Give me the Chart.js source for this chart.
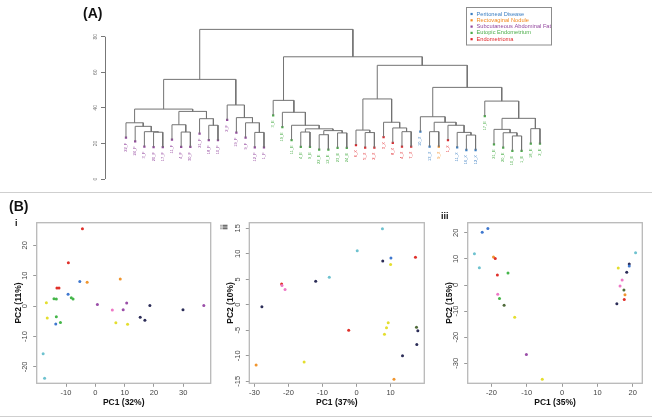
<!DOCTYPE html>
<html>
<head>
<meta charset="utf-8">
<script src="https://cdn.jsdelivr.net/npm/chart.js@4.4.1/dist/chart.umd.min.js"></script>
<style>
  body { margin: 0; background: #fff; width: 652px; height: 419px; overflow: hidden; position: relative; font-family: "Liberation Sans", Arial, sans-serif; }
  canvas { position: absolute; }
  .tag { position: absolute; font-weight: bold; color: #111; white-space: nowrap; will-change: transform; }
  .rule { position: absolute; left: 0; width: 652px; height: 1px; background: #cfcfcf; }
</style>
</head>
<body>
<div class="tag" style="left:83px;top:5px;font-size:14px;">(A)</div>
<div class="tag" style="left:9px;top:198px;font-size:14px;">(B)</div>
<div class="tag" style="left:15px;top:218px;font-size:9px;">i</div>
<div class="tag" style="left:222px;top:222px;font-size:9px;transform:rotate(-90deg);">ii</div>
<div class="tag" style="left:441px;top:211px;font-size:9px;">iii</div>
<div class="rule" style="top:192px;"></div>
<div class="rule" style="top:416px;"></div>

<canvas id="dendro" width="652" height="192" style="left:0;top:0;"></canvas>
<canvas id="pcaI" width="215" height="219" style="left:0;top:200px;"></canvas>
<canvas id="pcaII" width="215" height="219" style="left:215px;top:200px;"></canvas>
<canvas id="pcaIII" width="222" height="219" style="left:430px;top:200px;"></canvas>

<script>
// ---- (A) dendrogram data ----
const leafNames = ['22_F','24_F','3_F','20_F','17_F','11_F','4_F','30_F','21_F','18_F','10_F','2_F','19_F','9_F','12_F','1_F',
  '3_E','19_E','11_E','4_E','9_E','22_E','12_E','23_E','24_E',
  '6_X','5_X','2_X','3_X','8_X','4_X','7_X',
  '10_X','13_X','9_X','1_X','11_X','16_X','12_X',
  '17_E','21_E','20_E','10_E','1_E','18_E','2_E'];
const leafGroup = ['F','F','F','F','F','F','F','F','F','F','F','F','F','F','F','F',
  'E','E','E','E','E','E','E','E','E',
  'R','R','R','R','R','R','R',
  'P','P','O','R','P','P','P',
  'E','E','E','E','E','E','E'];
// R style merge table: negative = leaf -(index+1), positive = earlier merge (1-based)
const mergeLeft  = [-4,-3,-2,-1,-7,-6,-10,-9,6,4,-15,-14,-13,-12,10,
  -20,-22,-24,17,16,-19,-18,-17,
  -27,-26,-31,-30,-29,25,
  -34,-38,-37,-36,30,-33,
  -43,-42,-41,-45,38,-40,
  35,29,23,15];
const mergeRight = [-5,1,2,3,-8,5,-11,7,8,9,-16,11,12,13,14,
  -21,-23,-25,18,19,20,21,22,
  -28,24,-32,26,27,28,
  -35,-39,31,32,33,34,
  -44,36,37,-46,39,40,
  41,42,43,44];
const mergeHeight = [26.3,26.6,29.6,31.6,26.4,30.5,30.2,33.9,38.0,39.3,26.2,31.6,34.5,41.6,56.0,
  26.4,24.9,25.9,27.2,28.2,30.2,37.5,44.2,
  26.1,27.5,26.6,28.7,31.9,45.0,
  26.6,24.7,26.2,30.2,31.9,35.0,
  24.2,26.0,27.9,28.3,34.1,43.8,
  51.5,63.9,68.7,84.1];
const dendroTicks = [0, 20, 40, 60, 80];
const groupKeys  = ['P','O','F','E','R'];
const groupNames = ['Peritoneal Disease','Rectovaginal Nodule','Subcutaneous Abdominal Fat','Eutopic Endometrium','Endometrioma'];

// ---- (B) PCA data ----
const pcaI_x = [-4.4,-9.2,-5.3,-2.8,8.5,-13.1,-12.4,-9.3,-14.1,-13.3,-8.2,-7.6,-16.7,-16.4,-13.3,-13.5,-11.9,0.7,5.8,9.5,10.7,18.6,15.3,16.9,7.0,11.0,29.9,37.0,-17.8,-17.3];
const pcaI_y = [25.4,14.2,8.1,7.8,8.9,5.9,5.9,3.9,2.4,2.3,2.7,2.3,1.1,-3.9,-3.5,-5.9,-5.4,0.5,-1.3,-1.2,1.0,0.2,-3.7,-4.7,-5.5,-6.0,-1.2,0.2,-15.7,-23.7];
const pcaI_c = ['red','red','blue','orange','orange','red','red','blue','green','green','green','green','yellow','yellow','green','blue','green','purple','pink','purple','purple','navy','navy','navy','yellow','yellow','navy','purple','teal','teal'];
const pcaI_xTicks = [-10, 0, 10, 20, 30];
const pcaI_yTicks = [-20, -10, 0, 10, 20];

const pcaII_x = [7.6,0.2,7.7,10.1,10.0,17.3,-12.0,-8.0,-22.0,-21.9,-21.0,-27.8,-2.3,9.3,8.8,8.2,17.6,18.0,17.7,13.5,-15.4,-29.5,11.0];
const pcaII_y = [14.9,10.6,8.6,9.2,7.9,9.3,4.6,5.4,4.1,3.8,3.0,-0.4,-5.0,-3.5,-4.5,-5.8,-4.4,-5.1,-7.8,-10.0,-11.2,-11.8,-14.6];
const pcaII_c = ['teal','teal','navy','blue','yellow','red','navy','teal','red','pink','pink','navy','red','yellow','yellow','yellow','olive','navy','navy','navy','yellow','orange','orange'];
const pcaII_xTicks = [-30, -20, -10, 0, 10];
const pcaII_yTicks = [-15, -10, -5, 0, 5, 10, 15];

const pcaIII_x = [-21.0,-22.6,-24.8,-23.4,-19.4,-18.9,-18.3,-15.3,-18.2,-17.7,-16.4,-13.4,-10.1,-5.6,20.8,19.0,19.0,18.3,15.9,17.0,16.4,17.5,17.8,17.6,15.5];
const pcaIII_y = [21.7,20.2,12.0,6.6,10.7,10.2,3.8,4.6,-3.5,-5.2,-7.8,-12.4,-26.7,-36.1,12.4,8.1,7.3,4.9,6.5,1.9,-0.4,-1.9,-3.7,-5.6,-7.2];
const pcaIII_c = ['blue','blue','teal','teal','orange','red','red','green','pink','green','olive','yellow','purple','yellow','teal','navy','blue','navy','yellow','pink','pink','olive','orange','red','navy'];
const pcaIII_xTicks = [-20, -10, 0, 10, 20];
const pcaIII_yTicks = [-30, -20, -10, 0, 10, 20];

// ---- styles ----
const groupColor = { P: '#3a7ec2', O: '#f28a1e', F: '#93479e', E: '#4cae4a', R: '#e0252a' };
const dotColor = { red: '#e0302a', blue: '#3f78cf', orange: '#f0952e', green: '#45b64a', yellow: '#e4de2e',
  purple: '#9a4ea8', navy: '#2c2d58', teal: '#6ec2cf', pink: '#ee78c6', olive: '#4f6a3a' };
const FONT = '"Liberation Sans", Arial, sans-serif';
const AXIS = '#9a9a9a';

// build dendrogram geometry from merge table
const hang = 8.4;
const mergeX = [];
function nodeX(ref) { return ref < 0 ? -ref - 1 : mergeX[ref - 1]; }
const parentH = new Array(leafNames.length).fill(0);
mergeLeft.forEach((l, i) => {
  mergeX.push((nodeX(l) + nodeX(mergeRight[i])) / 2);
  [l, mergeRight[i]].forEach(r => { if (r < 0) parentH[-r - 1] = mergeHeight[i]; });
});
const leafY = parentH.map(h => h - hang);
function nodeY(ref) { return ref < 0 ? leafY[-ref - 1] : mergeHeight[ref - 1]; }
const branchPts = [];
mergeLeft.forEach((l, i) => {
  const r = mergeRight[i], h = mergeHeight[i];
  branchPts.push({ x: nodeX(l), y: nodeY(l) }, { x: nodeX(l), y: h },
                 { x: nodeX(r), y: h }, { x: nodeX(r), y: nodeY(r) }, { x: NaN, y: NaN });
});
const leafPts = leafNames.map((n, i) => ({ x: i, y: leafY[i] }));

const dendroPlugin = {
  id: 'dendroExtras',
  afterDatasetsDraw(chart) {
    const { ctx, scales: { x, y } } = chart;
    ctx.save();
    // axis line 0..80
    ctx.strokeStyle = '#777';
    ctx.lineWidth = 1;
    ctx.beginPath();
    ctx.moveTo(chart.chartArea.left + 0.5, y.getPixelForValue(dendroTicks[0]));
    ctx.lineTo(chart.chartArea.left + 0.5, y.getPixelForValue(dendroTicks[dendroTicks.length - 1]));
    ctx.stroke();
    // leaf labels
    ctx.font = '4px ' + FONT;
    ctx.textAlign = 'right';
    ctx.textBaseline = 'middle';
    leafNames.forEach((n, i) => {
      ctx.save();
      ctx.translate(x.getPixelForValue(i), y.getPixelForValue(leafY[i]) + 5);
      ctx.rotate(-Math.PI / 2);
      ctx.fillStyle = groupColor[leafGroup[i]];
      ctx.fillText(n, 0, 0);
      ctx.restore();
    });
    // legend box
    const lx = 466.5, ly = 7.5, lw = 85, lh = 37.5;
    ctx.strokeStyle = '#8c8c8c';
    ctx.strokeRect(lx, ly, lw, lh);
    ctx.font = '5.7px ' + FONT;
    ctx.textAlign = 'left';
    groupKeys.forEach((k, i) => {
      const yy = 14 + i * 6.3;
      ctx.fillStyle = groupColor[k];
      ctx.fillRect(lx + 4, yy - 1.1, 2.2, 2.2);
      ctx.fillText(groupNames[i], lx + 10, yy);
    });
    ctx.restore();
  }
};

new Chart(document.getElementById('dendro'), {
  type: 'scatter',
  data: {
    datasets: [
      { data: branchPts, showLine: true, spanGaps: false, borderColor: '#737373', borderWidth: 1, pointRadius: 0 },
      { data: leafPts, pointStyle: 'rect', pointRadius: 1.6, borderWidth: 0,
        pointBackgroundColor: leafGroup.map(g => groupColor[g]) }
    ]
  },
  options: {
    responsive: false, animation: false, events: [],
    layout: { padding: { left: 0, top: 22.45, right: 87, bottom: 9.44 } },
    plugins: { legend: { display: false }, tooltip: { enabled: false } },
    scales: {
      x: { type: 'linear', display: false, min: -2.28, max: 47.72 },
      y: {
        type: 'linear', min: -2, max: 88,
        afterBuildTicks: s => { s.ticks = dendroTicks.map(v => ({ value: v })); },
        afterFit: s => { s.width = 105; },
        border: { display: false },
        grid: { display: true, drawOnChartArea: false, drawTicks: true, tickLength: 4, color: '#777' },
        ticks: { minRotation: 90, maxRotation: 90, crossAlign: 'center', padding: 2.5, autoSkip: false,
          color: '#777', font: { family: FONT, size: 5 } }
      }
    }
  },
  plugins: [dendroPlugin]
});

// ---- PCA panels ----
const boxPlugin = {
  id: 'box',
  afterDraw(chart) {
    const { ctx, chartArea: a } = chart;
    ctx.save();
    ctx.strokeStyle = '#b8b8b8';
    ctx.lineWidth = 1.3;
    ctx.strokeRect(a.left, a.top, a.right - a.left, a.bottom - a.top);
    ctx.restore();
  }
};

function pcaChart(id, xs, ys, cs, xr, yr, xTicks, yTicks, box, xTitle, yTitle) {
  const cv = document.getElementById(id);
  new Chart(cv, {
    type: 'scatter',
    data: { datasets: [{
      data: xs.map((v, i) => ({ x: v, y: ys[i] })),
      pointRadius: 1.5, borderWidth: 0,
      pointBackgroundColor: cs.map(c => dotColor[c])
    }] },
    options: {
      responsive: false, animation: false, events: [],
      layout: { padding: { left: 0, top: box.top, right: cv.width - box.right, bottom: 0 } },
      plugins: { legend: { display: false }, tooltip: { enabled: false } },
      scales: {
        x: {
          type: 'linear', min: xr[0], max: xr[1],
          afterBuildTicks: s => { s.ticks = xTicks.map(v => ({ value: v })); },
          afterFit: s => { s.height = cv.height - box.bottom; },
          border: { display: false },
          grid: { display: true, drawOnChartArea: false, drawTicks: true, tickLength: 3.5, color: AXIS },
          ticks: { autoSkip: false, padding: 2, maxRotation: 0, color: '#444', font: { family: FONT, size: 7.5 } },
          title: { display: true, text: xTitle, color: '#111', font: { family: FONT, size: 8.5, weight: 'bold' },
            padding: { top: 0, bottom: 11.4 } }
        },
        y: {
          type: 'linear', min: yr[0], max: yr[1],
          afterBuildTicks: s => { s.ticks = yTicks.map(v => ({ value: v })); },
          afterFit: s => { s.width = box.left; },
          border: { display: false },
          grid: { display: true, drawOnChartArea: false, drawTicks: true, tickLength: 3.5, color: AXIS },
          ticks: { autoSkip: false, minRotation: 90, maxRotation: 90, crossAlign: 'center', padding: 2.5,
            color: '#444', font: { family: FONT, size: 7.5 } },
          title: { display: true, text: yTitle, color: '#111', font: { family: FONT, size: 8.5, weight: 'bold' },
            padding: { top: box.left - 18.5 - 5.1, bottom: 0 } }
        }
      }
    },
    plugins: [boxPlugin]
  });
}

pcaChart('pcaI', pcaI_x, pcaI_y, pcaI_c, [-20.0, 39.35], [-25.4, 27.4], pcaI_xTicks, pcaI_yTicks,
  { left: 36.7, top: 22.7, right: 210.7, bottom: 183.3 }, 'PC1 (32%)', 'PC2 (11%)');
pcaChart('pcaII', pcaII_x, pcaII_y, pcaII_c, [-31.5, 19.9], [-15.4, 16.1], pcaII_xTicks, pcaII_yTicks,
  { left: 34.3, top: 22.7, right: 209.3, bottom: 183.3 }, 'PC1 (37%)', 'PC2 (10%)');
pcaChart('pcaIII', pcaIII_x, pcaIII_y, pcaIII_c, [-26.7, 22.7], [-37.7, 23.9], pcaIII_xTicks, pcaIII_yTicks,
  { left: 37.7, top: 22.7, right: 212.3, bottom: 183.3 }, 'PC1 (35%)', 'PC2 (15%)');
</script>
</body>
</html>
